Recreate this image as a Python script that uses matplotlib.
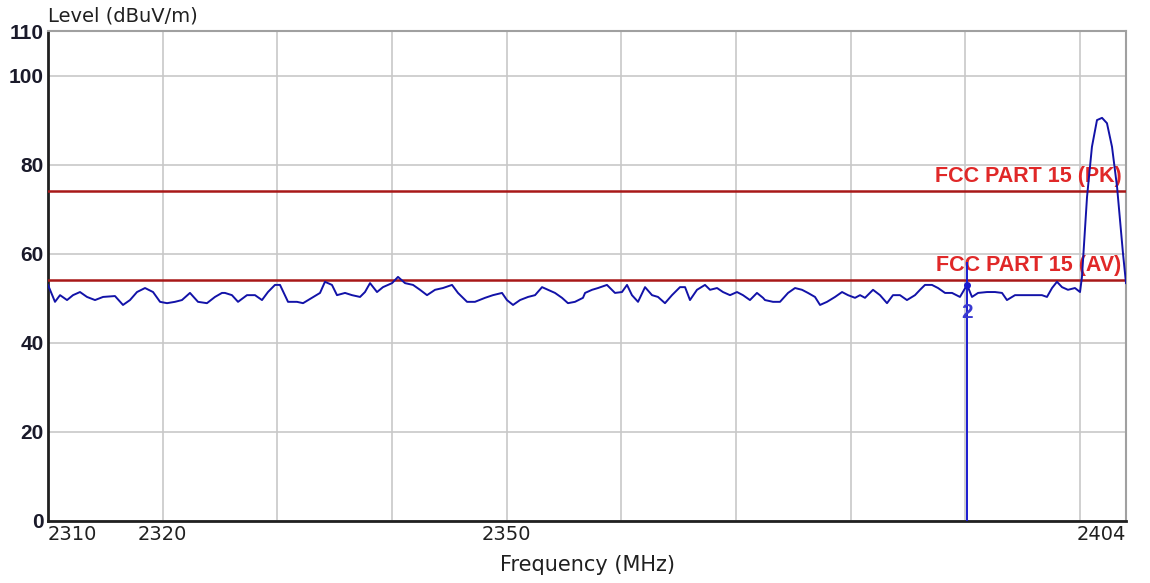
import numpy as np
import matplotlib.pyplot as plt

# trace
freq = [2310.00, 2310.61, 2311.05, 2311.66, 2312.18, 2312.79, 2313.40, 2314.10, 2314.80, 2315.84,
        2316.54, 2317.15, 2317.76, 2318.46, 2319.16, 2319.77, 2320.38, 2321.07, 2321.68, 2322.38,
        2323.08, 2323.86, 2324.56, 2325.17, 2325.43, 2326.04, 2326.57, 2327.35, 2328.05, 2328.66,
        2329.18, 2329.79, 2330.23, 2330.93, 2331.71, 2332.24, 2333.02, 2333.72, 2334.15, 2334.76,
        2335.20, 2335.90, 2336.51, 2337.21, 2337.64, 2338.08, 2338.69, 2339.21, 2340.00, 2340.52,
        2341.13, 2341.83, 2342.44, 2343.05, 2343.75, 2344.44, 2345.23, 2345.75, 2346.54, 2347.23,
        2348.11, 2348.80, 2349.59, 2350.02, 2350.55, 2351.16, 2351.86, 2352.47, 2353.08, 2353.60,
        2354.21, 2354.82, 2355.34, 2355.95, 2356.65, 2356.83, 2357.44, 2357.96, 2358.74, 2359.44,
        2360.05, 2360.49, 2360.92, 2361.45, 2362.06, 2362.67, 2363.19, 2363.80, 2364.41, 2365.11,
        2365.55, 2365.98, 2366.59, 2367.29, 2367.73, 2368.34, 2368.86, 2369.47, 2370.08, 2370.60,
        2371.21, 2371.82, 2372.35, 2372.52, 2373.22, 2373.83, 2374.53, 2375.14, 2375.75, 2376.27,
        2376.88, 2377.32, 2377.93, 2378.63, 2379.24, 2379.76, 2380.37, 2380.81, 2381.24, 2381.94,
        2382.55, 2383.16, 2383.68, 2384.29, 2384.90, 2385.60, 2386.04, 2386.47, 2387.08, 2387.61,
        2388.22, 2388.83, 2389.52, 2390.14, 2390.57, 2391.10, 2391.88, 2392.58, 2393.19, 2393.62,
        2394.32, 2395.19, 2395.89, 2396.67, 2397.11, 2397.55, 2397.98, 2398.42, 2398.94, 2399.55,
        2399.99, 2400.16, 2400.60, 2401.03, 2401.47, 2401.91, 2402.34, 2402.78, 2403.22, 2403.48,
        2403.74, 2404.00]
level = [53.0, 49.2, 50.7, 49.6, 50.7, 51.4, 50.3, 49.6, 50.3, 50.5,
         48.5, 49.6, 51.4, 52.3, 51.4, 49.2, 48.9, 49.2, 49.6, 51.2,
         49.2, 48.9, 50.3, 51.2, 51.2, 50.7, 49.2, 50.7, 50.7, 49.6,
         51.4, 53.0, 53.0, 49.2, 49.2, 48.9, 50.1, 51.2, 53.7, 53.0,
         50.7, 51.2, 50.7, 50.3, 51.4, 53.4, 51.4, 52.5, 53.4, 54.8,
         53.4, 53.0, 51.9, 50.7, 51.9, 52.3, 53.0, 51.2, 49.2, 49.2,
         50.1, 50.7, 51.2, 49.6, 48.5, 49.6, 50.3, 50.7, 52.5, 51.9,
         51.2, 50.1, 48.9, 49.2, 50.1, 51.2, 51.9, 52.3, 53.0, 51.2,
         51.4, 53.0, 50.7, 49.2, 52.5, 50.7, 50.3, 48.9, 50.7, 52.5,
         52.5, 49.6, 51.9, 53.0, 51.9, 52.3, 51.4, 50.7, 51.4, 50.7,
         49.6, 51.2, 50.1, 49.6, 49.2, 49.2, 51.2, 52.3, 51.9, 51.2,
         50.3, 48.5, 49.2, 50.3, 51.4, 50.7, 50.1, 50.7, 50.1, 51.9,
         50.7, 48.9, 50.7, 50.7, 49.6, 50.7, 51.9, 53.0, 53.0, 52.3,
         51.2, 51.2, 50.3, 53.0, 50.3, 51.2, 51.4, 51.4, 51.2, 49.6,
         50.7, 50.7, 50.7, 50.7, 50.3, 52.3, 53.7, 52.5, 51.9, 52.3,
         51.4, 54.8, 72.7, 84.0, 90.0, 90.5, 89.3, 84.0, 75.0, 67.6,
         60.0, 53.4]

limit_names = ["FCC PART 15 (PK)", "FCC PART 15 (AV)"]
limit_values = [74, 54]

marker_freq = 2390.14
marker_level = 53.0
marker_label = "2"

xtick_major = [2310, 2320, 2330, 2340, 2350, 2360, 2370, 2380, 2390, 2400, 2404]
xtick_labels = ["2310", "2320", "", "", "2350", "", "", "", "", "", "2404"]
ytick_vals = [0, 20, 40, 60, 80, 100, 110]

narrow = ['DejaVu Sans Condensed', 'DejaVu Sans']

fig = plt.figure(figsize=(11.5, 5.83), dpi=100)
ax = fig.add_axes([48 / 1150, 1 - 521 / 583, (1126 - 48) / 1150, (521 - 31) / 583])

ax.set_xlim(2310, 2404)
ax.set_ylim(0, 110)
ax.set_xticks(xtick_major)
ax.set_xticklabels(xtick_labels, family=narrow, fontsize=14, color='#202020')
ax.set_yticks(ytick_vals)
ax.set_yticklabels([str(v) for v in ytick_vals], family='Liberation Sans', fontweight='bold',
                   fontsize=15, color='#1a1a2a')
ax.tick_params(length=0, pad=3)
xl = ax.get_xticklabels()
xl[0].set_ha('left')
xl[-1].set_ha('right')

ax.grid(True, color='#c8c8c8', linewidth=1.2)
ax.set_axisbelow(True)
for s in ['left', 'bottom']:
    ax.spines[s].set_color('#202020')
    ax.spines[s].set_linewidth(2)
for s in ['top', 'right']:
    ax.spines[s].set_color('#a0a0a0')
    ax.spines[s].set_linewidth(1.5)

for name, val in zip(limit_names, limit_values):
    ax.axhline(val, color='#a81818', linewidth=1.8, zorder=3)
    ax.text(2403.6, val + 0.9, name, ha='right', va='bottom', color='#e02828',
            fontsize=15.5, fontweight='bold', family='Liberation Sans', zorder=4)

ax.plot(freq, level, color='#1212a8', linewidth=1.4, zorder=5)

ax.plot([marker_freq, marker_freq], [0, 58], color='#1a1ad0', linewidth=1.4, zorder=6)
ax.plot(marker_freq, marker_level, 'o', color='#1a1ad0', markersize=4, zorder=6)
ax.text(marker_freq, 46.8, marker_label, ha='center', va='center', color='#3a3ad0',
        fontsize=15, fontweight='bold', family='Liberation Sans', zorder=6)

fig.text(48 / 1150, 1 - 16 / 583, "Level (dBuV/m)", ha='left', va='center',
         family=narrow, fontsize=14, color='#202020')
fig.text(587 / 1150, 1 - 565 / 583, "Frequency (MHz)", ha='center', va='center',
         family=narrow, fontsize=15, color='#202020')

fig.savefig('out.png', dpi=100)
